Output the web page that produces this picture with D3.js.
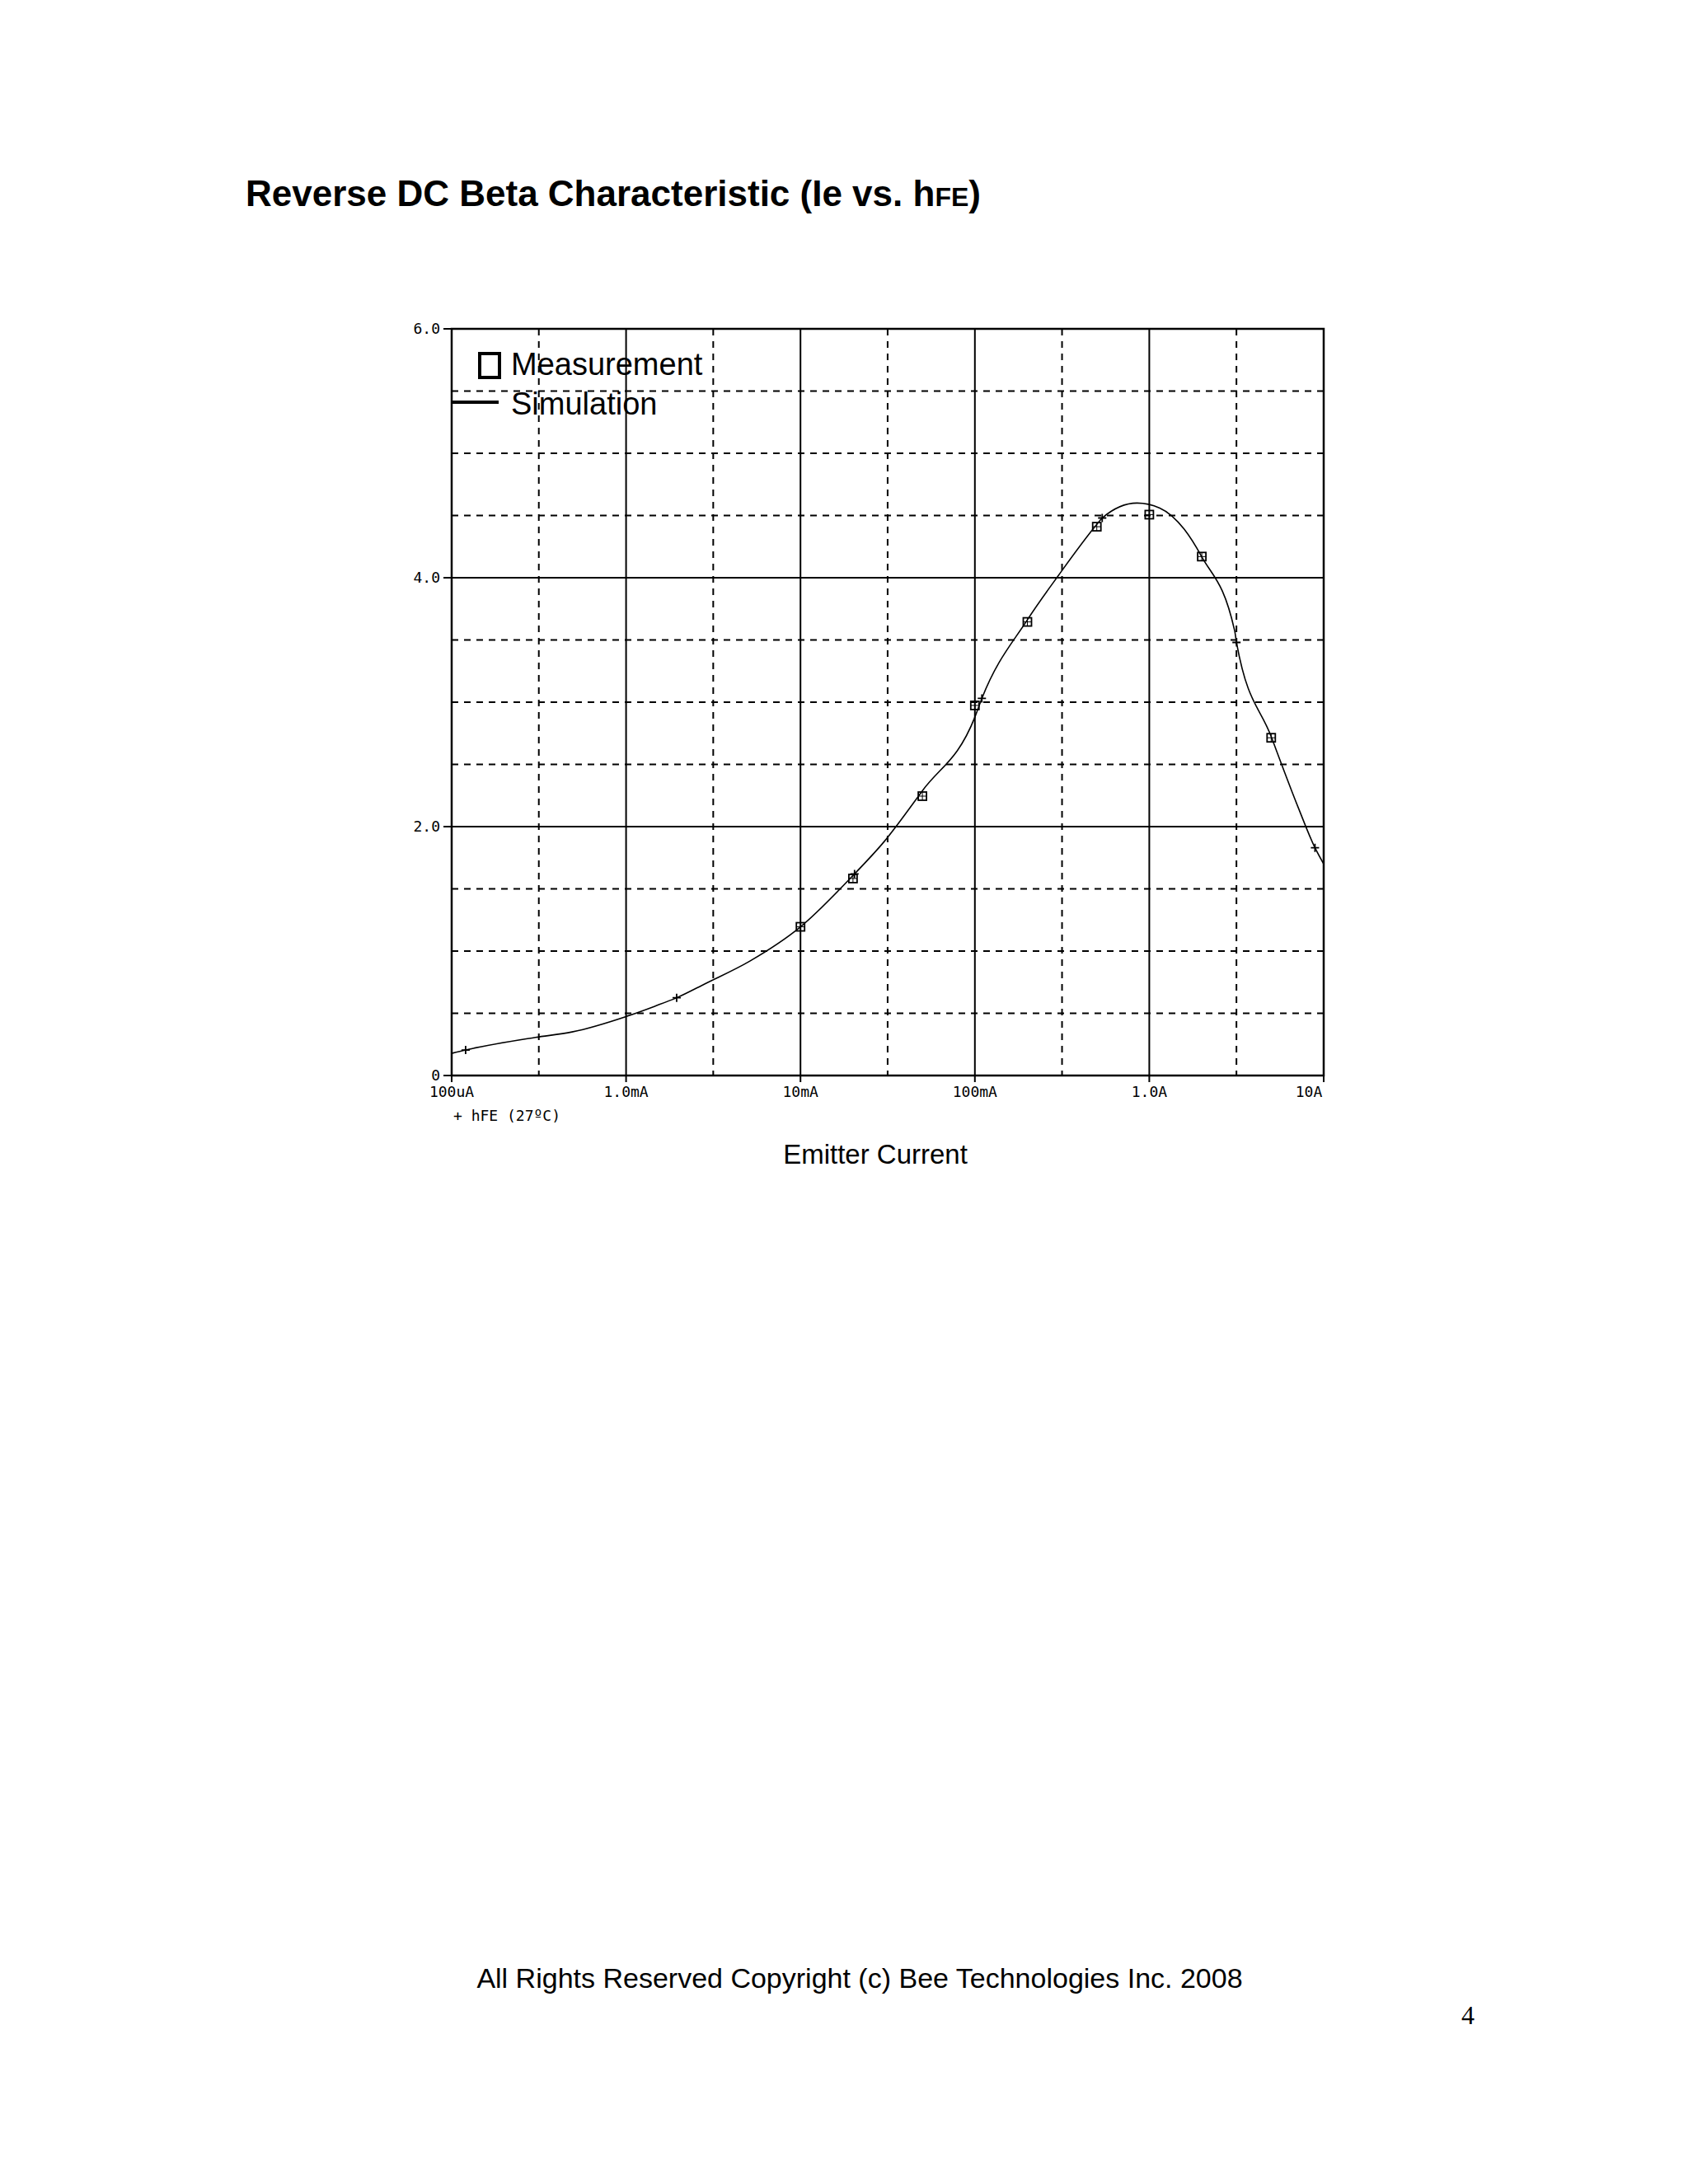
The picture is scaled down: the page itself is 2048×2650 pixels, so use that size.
<!DOCTYPE html>
<html><head><meta charset="utf-8">
<script src="https://cdn.jsdelivr.net/npm/d3@7"></script>
<style>body{margin:0;background:#fff}</style></head>
<body><svg id="c" width="2048" height="2650"></svg>
<script>
const xTicks=[1e-4,1e-3,1e-2,1e-1,1,10];
const xTickLabels=["100uA","1.0mA","10mA","100mA","1.0A","10A"];
const yTicks=[0,2,4,6];
const yTickLabels=["0","2.0","4.0","6.0"];
const measX=[0.01,0.02,0.05,0.1,0.2,0.5,1,2,5];
const measY=[1.195,1.583,2.245,2.974,3.645,4.41,4.507,4.17,2.714];
const simLog=[0,0.08,0.48,0.69,1.0,1.165,1.29,1.455,1.71,2.0,2.30,2.48,2.70,3.0,3.04,3.30,3.48,3.70,3.73,3.93,4.06,4.20,4.30,4.49,4.50,4.70,4.855,4.95,5.0];
const simY=[0.178,0.205,0.306,0.35,0.474,0.557,0.625,0.739,0.92,1.195,1.606,1.88,2.29,2.88,3.03,3.66,4.02,4.43,4.48,4.60,4.56,4.39,4.17,3.57,3.48,2.72,2.15,1.83,1.70];
const plusLog=[0.08,1.29,2.31,3.04,3.73,4.50,4.95];
const plusY=[0.205,0.625,1.62,3.03,4.48,3.48,1.83];

const svg=d3.select("#c");
const L=548,R=1606,T=399,B=1305;
const x=d3.scaleLog().domain([1e-4,10]).range([L,R]);
const y=d3.scaleLinear().domain([0,6]).range([B,T]);
const mono="'DejaVu Sans Mono','Liberation Mono',monospace";
const sans="'Liberation Sans',Arial,sans-serif";

svg.append("text").attr("x",298).attr("y",250).attr("font-family",sans).attr("font-weight","bold").attr("font-size",44)
 .text("Reverse DC Beta Characteristic (Ie vs. h").append("tspan").attr("font-size",32).text("FE");
svg.select("text").append("tspan").text(")");

const g=svg.append("g");
// dashed grid
for(let v=0.5;v<6;v+=0.5){ if(v%2===0) continue;
 g.append("line").attr("x1",L).attr("x2",R).attr("y1",y(v)).attr("y2",y(v)).attr("stroke","#000").attr("stroke-width",2).attr("stroke-dasharray","8,7");}
xTicks.slice(0,-1).forEach(t=>{const v=t*3.16;
 g.append("line").attr("x1",x(v)).attr("x2",x(v)).attr("y1",T).attr("y2",B).attr("stroke","#000").attr("stroke-width",2).attr("stroke-dasharray","8,7");});
// solid grid
yTicks.forEach(t=>g.append("line").attr("x1",L).attr("x2",R).attr("y1",y(t)).attr("y2",y(t)).attr("stroke","#000").attr("stroke-width",2));
xTicks.forEach(t=>g.append("line").attr("x1",x(t)).attr("x2",x(t)).attr("y1",T).attr("y2",B+8).attr("stroke","#000").attr("stroke-width",2));
yTicks.forEach(t=>g.append("line").attr("x1",L-10).attr("x2",L).attr("y1",y(t)).attr("y2",y(t)).attr("stroke","#000").attr("stroke-width",2));
g.append("rect").attr("x",L).attr("y",T).attr("width",R-L).attr("height",B-T).attr("fill","none").attr("stroke","#000").attr("stroke-width",2.5);

yTicks.forEach((t,i)=>svg.append("text").attr("x",L-14).attr("y",y(t)+6).attr("text-anchor","end").attr("font-family",mono).attr("font-size",18).text(yTickLabels[i]));
xTicks.forEach((t,i)=>svg.append("text").attr("x",x(t)+(i==5?-18:0)).attr("y",B+26).attr("text-anchor","middle").attr("font-family",mono).attr("font-size",18).text(xTickLabels[i]));
svg.append("text").attr("x",L+2).attr("y",B+55).attr("font-family",mono).attr("font-size",18).attr("xml:space","preserve").text("+ hFE (27ºC)");

// simulation
const line=d3.line().x((d,i)=>x(1e-4*Math.pow(10,d))).y((d,i)=>y(simY[i])).curve(d3.curveMonotoneX);
svg.append("path").datum(simLog).attr("d",line).attr("fill","none").attr("stroke","#000").attr("stroke-width",1.6);
plusLog.forEach((l,i)=>{const px=x(1e-4*Math.pow(10,l)),py=y(plusY[i]);
 svg.append("path").attr("d",`M${px-5},${py}h10M${px},${py-5}v10`).attr("stroke","#000").attr("stroke-width",1.8);});
// measurement
measX.forEach((v,i)=>{const px=x(v),py=y(measY[i]);
 svg.append("rect").attr("x",px-5).attr("y",py-5).attr("width",10).attr("height",10).attr("fill","none").attr("stroke","#000").attr("stroke-width",1.8);
 svg.append("path").attr("d",`M${px-5},${py}h10M${px},${py-5}v10`).attr("stroke","#000").attr("stroke-width",1);});

// legend
svg.append("rect").attr("x",582).attr("y",429).attr("width",24).attr("height",29).attr("fill","none").attr("stroke","#000").attr("stroke-width",4);
svg.append("text").attr("x",620).attr("y",443+12).attr("font-family",sans).attr("font-size",38).text("Measurement");
svg.append("line").attr("x1",L).attr("x2",605).attr("y1",488).attr("y2",488).attr("stroke","#000").attr("stroke-width",4);
svg.append("text").attr("x",620).attr("y",503).attr("font-family",sans).attr("font-size",38).text("Simulation");

svg.append("text").attr("x",1062).attr("y",1412).attr("text-anchor","middle").attr("font-family",sans).attr("font-size",33).text("Emitter Current");
svg.append("text").attr("x",1043).attr("y",2412).attr("text-anchor","middle").attr("font-family",sans).attr("font-size",34).text("All Rights Reserved Copyright (c) Bee Technologies Inc. 2008");
svg.append("text").attr("x",1789).attr("y",2456).attr("text-anchor","end").attr("font-family","'Liberation Serif',serif").attr("font-size",32).text("4");
</script></body></html>
